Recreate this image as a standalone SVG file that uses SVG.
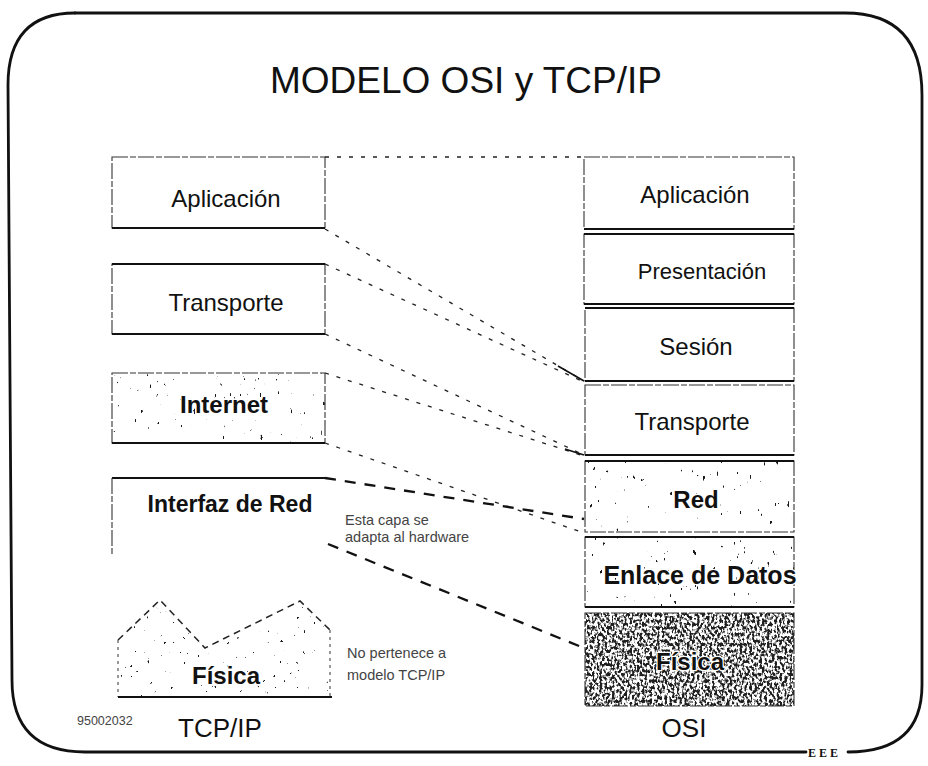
<svg xmlns="http://www.w3.org/2000/svg" width="928" height="766" viewBox="0 0 928 766">
  <style>
    text { font-family: "Liberation Sans", Arial, Helvetica, sans-serif; fill: #111; }
    .title { font-size: 37px; text-anchor: middle; }
    .lbl { font-size: 24px; text-anchor: middle; }
    .lbl-b { font-size: 24px; font-weight: bold; text-anchor: middle; }
    .note { font-size: 14.5px; fill: #444; }
    .cap { font-size: 26px; text-anchor: middle; }
    .code { font-size: 12.5px; fill: #444; }
    .frame { fill: none; stroke: #111; stroke-width: 2.8; stroke-linejoin: round; stroke-linecap: round; }
    .box { fill: none; stroke: #333; stroke-width: 1.1; stroke-dasharray: 16 2 6 2; }
    .rule { stroke: #111; stroke-width: 2; }
    .dots { fill: none; stroke: #222; stroke-width: 1.3; stroke-dasharray: 4 8; }
    .dash { fill: none; stroke: #111; stroke-width: 2.3; stroke-dasharray: 11 9; }
    .tip { fill: none; stroke: #111; stroke-width: 1.6; }
    .halo { paint-order: stroke; stroke: #fff; stroke-width: 2.5px; stroke-linejoin: round; }
  </style>
  <defs>
    <!-- sparse speckle for lightly shaded layers -->
    <filter id="speck-light" x="0" y="0" width="1" height="1" color-interpolation-filters="sRGB">
      <feTurbulence type="fractalNoise" baseFrequency="0.3 0.12" numOctaves="2" seed="7" result="n"/>
      <feColorMatrix in="n" type="matrix" values="0 0 0 0 0.1  0 0 0 0 0.1  0 0 0 0 0.1  30 0 0 0 -22.3"/>
    </filter>
    <!-- even sparser speckle for the free-standing physical shape -->
    <filter id="speck-faint" x="0" y="0" width="1" height="1" color-interpolation-filters="sRGB">
      <feTurbulence type="fractalNoise" baseFrequency="0.3 0.2" numOctaves="2" seed="11" result="n"/>
      <feColorMatrix in="n" type="matrix" values="0 0 0 0 0.1  0 0 0 0 0.1  0 0 0 0 0.1  30 0 0 0 -23.2"/>
    </filter>
    <!-- dense speckle for the physical layer -->
    <filter id="speck-heavy" x="0" y="0" width="1" height="1" color-interpolation-filters="sRGB">
      <feTurbulence type="fractalNoise" baseFrequency="0.4 0.3" numOctaves="2" seed="3" result="n"/>
      <feColorMatrix in="n" type="matrix" values="0 0 0 0 0.12  0 0 0 0 0.12  0 0 0 0 0.12  6 0 0 0 -2.6"/>
    </filter>
    <clipPath id="fisica-tcp-clip">
      <path d="M118,697 V640 L160,600 L205,648 L300,601 L330,630 V697 Z"/>
    </clipPath>
  </defs>

  <rect width="928" height="766" fill="#fff"/>

  <!-- outer slide frame -->
  <path class="frame" d="M75,13 L845,13 Q922,13 922,95 L922,685 Q922,752 848,752"/>
  <path class="frame" d="M806,752 L85,752 Q12,752 12,680 L8,85 Q8,13 75,13"/>
  <text x="808" y="757" style="font-size:12px;font-weight:bold;font-family:'Liberation Serif',serif;letter-spacing:3px">EEE</text>

  <text class="title" x="466" y="93">MODELO OSI y TCP/IP</text>

  <!-- connectors between the two stacks -->
  <g id="connectors">
    <path class="dots" d="M325,157 L584,157"/>
    <path class="dots" d="M325,229 L584,381"/>
    <path class="dots" d="M325,264 L584,382"/>
    <path class="dots" d="M325,334 L584,455"/>
    <path class="dots" d="M325,373 L584,456"/>
    <path class="dots" d="M325,443 L584,533"/>
    <path class="dash" d="M325,478 L584,519"/>
    <path class="dash" d="M328,544 L584,648"/>
    <path class="tip" d="M558,366 L584,381"/>
    <path class="tip" d="M565,449 L584,455"/>
  </g>

  <!-- TCP/IP stack -->
  <g id="tcp-aplicacion">
    <rect class="box" x="112" y="157" width="213" height="71"/>
    <line class="rule" x1="112" y1="228" x2="325" y2="228"/>
    <text class="lbl" x="226" y="207">Aplicación</text>
  </g>
  <g id="tcp-transporte">
    <rect class="box" x="112" y="264" width="213" height="70"/>
    <line class="rule" x1="112" y1="264" x2="325" y2="264"/>
    <line class="rule" x1="112" y1="334" x2="325" y2="334"/>
    <text class="lbl" x="226" y="311">Transporte</text>
  </g>
  <g id="tcp-internet">
    <rect x="112" y="373" width="213" height="70" fill="#fff" filter="url(#speck-light)"/>
    <rect class="box" x="112" y="373" width="213" height="70"/>
    <line class="rule" x1="112" y1="443" x2="325" y2="443"/>
    <text class="lbl-b halo" x="224" y="413">Internet</text>
  </g>
  <g id="tcp-interfaz">
    <line class="rule" x1="112" y1="478" x2="325" y2="478"/>
    <line class="box" x1="112" y1="478" x2="112" y2="556"/>
    <text class="lbl-b" x="230" y="512" style="font-size:23px">Interfaz de Red</text>
    <text class="note" x="345" y="525">Esta capa se</text>
    <text class="note" x="345" y="542">adapta al hardware</text>
  </g>
  <g id="tcp-fisica">
    <rect x="112" y="595" width="225" height="105" fill="#fff" filter="url(#speck-faint)" clip-path="url(#fisica-tcp-clip)"/>
    <path d="M118,640 L160,600 L205,648 L300,601 L330,630" fill="none" stroke="#222" stroke-width="1.5" stroke-dasharray="7 5"/>
    <path d="M118,640 V697 M330,630 V697" fill="none" stroke="#333" stroke-width="1" stroke-dasharray="3 4"/>
    <line class="rule" x1="118" y1="697" x2="332" y2="697"/>
    <text class="lbl-b halo" x="226" y="684">Física</text>
    <text class="note" x="347" y="658">No pertenece a</text>
    <text class="note" x="347" y="680">modelo TCP/IP</text>
  </g>

  <!-- OSI stack -->
  <g id="osi-aplicacion">
    <rect class="box" x="584" y="157" width="210" height="72"/>
    <line class="rule" x1="584" y1="229" x2="794" y2="229"/>
    <text class="lbl" x="695" y="203">Aplicación</text>
  </g>
  <g id="osi-presentacion">
    <rect class="box" x="584" y="234" width="210" height="70"/>
    <line class="rule" x1="584" y1="234" x2="794" y2="234"/>
    <line class="rule" x1="584" y1="304" x2="794" y2="304"/>
    <text class="lbl" x="702" y="279" style="font-size:22px">Presentación</text>
  </g>
  <g id="osi-sesion">
    <rect class="box" x="585" y="308" width="209" height="73"/>
    <line class="rule" x1="585" y1="308" x2="794" y2="308"/>
    <line class="rule" x1="585" y1="381" x2="794" y2="381"/>
    <text class="lbl" x="696" y="355">Sesión</text>
  </g>
  <g id="osi-transporte">
    <rect class="box" x="585" y="385" width="209" height="70"/>
    <line class="rule" x1="585" y1="455" x2="794" y2="455"/>
    <text class="lbl" x="692" y="430">Transporte</text>
  </g>
  <g id="osi-red">
    <rect x="585" y="461" width="209" height="71" fill="#fff" filter="url(#speck-light)"/>
    <rect class="box" x="585" y="461" width="209" height="71"/>
    <line class="rule" x1="585" y1="461" x2="794" y2="461"/>
    <text class="lbl-b halo" x="696" y="508">Red</text>
  </g>
  <g id="osi-enlace">
    <rect x="585" y="537" width="209" height="70" fill="#fff" filter="url(#speck-light)"/>
    <rect class="box" x="585" y="537" width="209" height="70"/>
    <line class="rule" x1="585" y1="537" x2="794" y2="537"/>
    <line class="rule" x1="585" y1="607" x2="794" y2="607"/>
    <text class="lbl-b halo" x="700" y="584" style="font-size:25px">Enlace de Datos</text>
  </g>
  <g id="osi-fisica">
    <rect x="585" y="613" width="209" height="93" fill="#fff" filter="url(#speck-heavy)"/>
    <rect class="box" x="585" y="613" width="209" height="93"/>
    <text class="lbl-b halo" x="690" y="670">Física</text>
  </g>

  <!-- stack captions and reference code -->
  <text class="cap" x="220" y="737">TCP/IP</text>
  <text class="cap" x="684" y="737">OSI</text>
  <text class="code" x="77" y="725">95002032</text>
</svg>
